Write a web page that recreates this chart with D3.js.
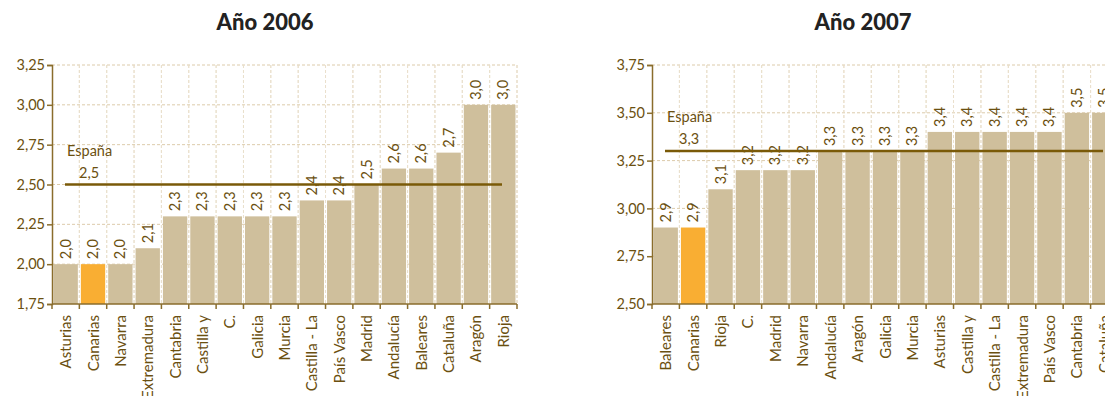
<!DOCTYPE html>
<html>
<head>
<meta charset="utf-8">
<script src="https://cdn.jsdelivr.net/npm/d3@7"></script>
<style>
  body { margin: 0; background: #fff; overflow: hidden; }
  svg { display: block; font-family: Lato, "Open Sans", sans-serif; }
</style>
</head>
<body>
<div id="chart"></div>
<script>
// Año 2006
let regiones2006 = ['Asturias', 'Canarias', 'Navarra', 'Extremadura', 'Cantabria', 'Castilla y', 'C.', 'Galicia', 'Murcia', 'Castilla - La', 'País Vasco', 'Madrid', 'Andalucía', 'Baleares', 'Cataluña', 'Aragón', 'Rioja'];
let valores2006 = [2.0, 2.0, 2.0, 2.1, 2.3, 2.3, 2.3, 2.3, 2.3, 2.4, 2.4, 2.5, 2.6, 2.6, 2.7, 3.0, 3.0];
let ticks2006 = [1.75, 2.00, 2.25, 2.50, 2.75, 3.00, 3.25];
let espana2006 = 2.5;

// Año 2007
let regiones2007 = ['Baleares', 'Canarias', 'Rioja', 'C.', 'Madrid', 'Navarra', 'Andalucía', 'Aragón', 'Galicia', 'Murcia', 'Asturias', 'Castilla y', 'Castilla - La', 'Extremadura', 'País Vasco', 'Cantabria', 'Cataluña'];
let valores2007 = [2.9, 2.9, 3.1, 3.2, 3.2, 3.2, 3.3, 3.3, 3.3, 3.3, 3.4, 3.4, 3.4, 3.4, 3.4, 3.5, 3.5];
let ticks2007 = [2.50, 2.75, 3.00, 3.25, 3.50, 3.75];
let espana2007 = 3.3;

let width = 1105;
let height = 396;
let textColor = '#6b5010';
let axisColor = '#8a6d2c';
let barColor = '#cfbf9c';
let highlight = '#f9ae33';
let lineColor = '#7a5a08';

let svg = d3.select('#chart').append('svg')
    .attr('width', width)
    .attr('height', height);

let fmt = v => d3.format('.2f')(v).replace('.', ',');
let fmt1 = v => d3.format('.1f')(v).replace('.', ',');

function drawChart(opts) {
    let g = svg.append('g');

    let x = d3.scaleBand()
        .domain(opts.regiones)
        .range([opts.left, opts.right])
        .paddingInner(0.11)
        .paddingOuter(0.055);

    let y = d3.scaleLinear()
        .domain([opts.ticks[0], opts.ticks[opts.ticks.length - 1]])
        .range([304, 65]);

    // title
    svg.append('text')
        .attr('x', opts.titleX)
        .attr('y', 30)
        .attr('text-anchor', 'middle')
        .attr('font-size', 22)
        .attr('font-weight', 900)
        .attr('fill', '#222')
        .text(opts.title);

    // grid
    let step = (opts.right - opts.left) / opts.regiones.length;
    let vlines = d3.range(opts.regiones.length + 1).map(i => opts.left + i * step);
    g.append('g').selectAll('line')
        .data(opts.ticks.slice(1))
        .enter().append('line')
        .attr('x1', opts.left).attr('x2', opts.right)
        .attr('y1', d => y(d)).attr('y2', d => y(d))
        .attr('stroke', '#dccbab').attr('stroke-dasharray', '3,2');
    g.append('g').selectAll('line')
        .data(vlines.slice(1))
        .enter().append('line')
        .attr('x1', d => d).attr('x2', d => d)
        .attr('y1', y.range()[1]).attr('y2', y.range()[0])
        .attr('stroke', '#dccbab').attr('stroke-dasharray', '3,2');

    // bars
    g.append('g').selectAll('rect')
        .data(opts.valores)
        .enter().append('rect')
        .attr('x', (d, i) => x(opts.regiones[i]))
        .attr('width', x.bandwidth())
        .attr('y', d => y(d))
        .attr('height', d => y.range()[0] - y(d))
        .attr('fill', (d, i) => opts.regiones[i] == 'Canarias' ? highlight : barColor);

    // grid showing through the bars
    g.append('g').selectAll('line')
        .data(vlines.slice(1, -1))
        .enter().append('line')
        .attr('x1', d => d).attr('x2', d => d)
        .attr('y1', y.range()[1]).attr('y2', y.range()[0])
        .attr('stroke', '#f4efe4').attr('stroke-width', 1).attr('stroke-dasharray', '3,2')
        .attr('opacity', 0.6);

    // value labels
    g.append('g').selectAll('text')
        .data(opts.valores)
        .enter().append('text')
        .attr('transform', (d, i) => 'translate(' + (x(opts.regiones[i]) + x.bandwidth() / 2 + 5) + ',' + (y(d) - 5) + ') rotate(-90)')
        .attr('font-size', 14.5)
        .attr('fill', textColor)
        .text(d => fmt1(d));

    // España line
    g.append('line')
        .attr('x1', opts.left + 13).attr('x2', opts.lineEnd)
        .attr('y1', y(opts.espana)).attr('y2', y(opts.espana))
        .attr('stroke', lineColor).attr('stroke-width', 2.5);
    g.append('text')
        .attr('x', opts.left + 15).attr('y', y(opts.espana) - 29)
        .attr('font-size', 14.5).attr('fill', textColor)
        .text('España');
    g.append('text')
        .attr('x', opts.left + 27).attr('y', y(opts.espana) - 7)
        .attr('font-size', 14.5).attr('fill', textColor)
        .text(fmt1(opts.espana));

    // y axis
    let yAxis = g.append('g')
        .attr('transform', 'translate(' + opts.left + ',0)')
        .call(d3.axisLeft(y).tickValues(opts.ticks).tickSize(5).tickFormat(fmt));
    yAxis.selectAll('path, line').attr('stroke', axisColor).attr('stroke-width', 1.5);
    yAxis.selectAll('text').attr('fill', textColor).attr('font-size', 14.5)
        .attr('font-family', 'Lato, "Open Sans", sans-serif').attr('x', -7);

    // x axis
    let xAxis = g.append('g')
        .attr('transform', 'translate(0,304)');
    xAxis.append('line')
        .attr('x1', opts.left).attr('x2', opts.right)
        .attr('stroke', axisColor).attr('stroke-width', 1.5);
    xAxis.selectAll('.tick')
        .data(vlines)
        .enter().append('line')
        .attr('x1', d => d).attr('x2', d => d)
        .attr('y1', 0).attr('y2', 5)
        .attr('stroke', axisColor).attr('stroke-width', 1.5);
    xAxis.selectAll('.lbl')
        .data(opts.regiones)
        .enter().append('text')
        .attr('transform', d => 'translate(' + (x(d) + x.bandwidth() / 2 + 5.5) + ',11) rotate(-90)')
        .attr('text-anchor', 'end')
        .attr('font-size', 15)
        .attr('fill', textColor)
        .text(d => d);
}

drawChart({
    title: 'Año 2006', titleX: 265,
    regiones: regiones2006, valores: valores2006, ticks: ticks2006, espana: espana2006,
    left: 52, right: 517, lineEnd: 502
});

drawChart({
    title: 'Año 2007', titleX: 863,
    regiones: regiones2007, valores: valores2007, ticks: ticks2007, espana: espana2007,
    left: 652, right: 1118, lineEnd: 1103
});
</script>
</body>
</html>
